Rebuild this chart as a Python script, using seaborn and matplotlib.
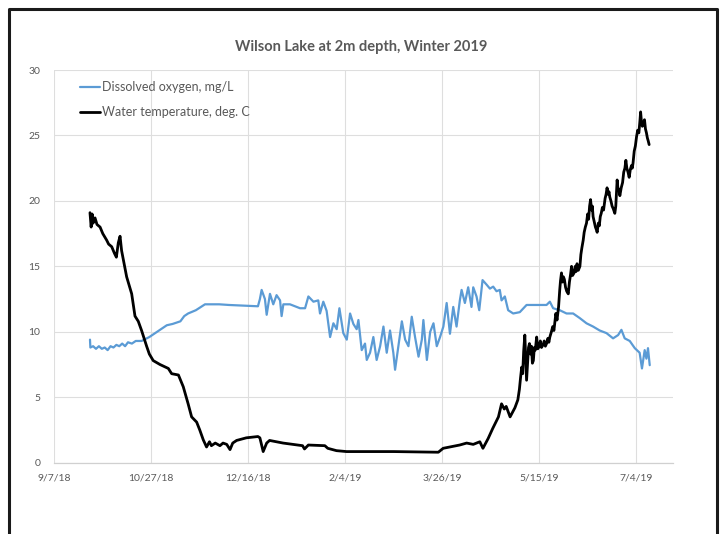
import matplotlib
matplotlib.use("Agg")
import matplotlib.pyplot as plt
from matplotlib.lines import Line2D
import seaborn as sns
import pandas as pd

# Wilson Lake logger record (days after 9/7/18)
START = pd.Timestamp("2018-09-07")

temp_day = [18.4, 19.0, 19.5, 20.0, 21.0, 22.0, 23.6, 25.0, 27.0, 28.0, 29.6, 31.0,
            32.0, 33.0, 33.9, 34.7, 36.0, 37.3, 39.9, 41.6, 43.3, 45.0, 47.6, 49.0,
            51.0, 54.5, 58.8, 60.5, 64.0, 66.5, 69.0, 70.8, 73.4, 75.0, 76.8, 78.5,
            80.0, 81.0, 83.0, 85.4, 87.0, 88.9, 90.6, 92.0, 94.0, 99.0, 105.0, 106.0,
            107.7, 109.5, 111.0, 114.6, 118.0, 123.0, 128.0, 129.0, 131.0, 139.5, 141.0,
            145.5, 150.7, 160.0, 175.0, 190.0, 198.0, 200.5, 204.0, 209.0, 212.6, 216.0,
            219.4, 221.0, 223.7, 226.0, 229.0, 230.6, 232.0, 233.0, 235.0, 237.5,
            239.0, 239.8, 240.4, 241.0, 241.5, 242.0, 242.6, 243.0, 243.5, 244.0, 244.5,
            245.0, 245.5, 246.0, 246.5, 247.0, 247.5, 248.0, 248.7, 249.3, 250.0, 250.6,
            251.2, 252.0, 252.6, 253.2, 253.8, 254.5, 255.0, 255.5, 256.3, 257.0, 257.6,
            258.0, 258.6, 259.2, 260.0, 260.6, 261.0, 261.5, 262.0, 262.5, 263.0, 263.6,
            264.2, 265.0, 265.6, 266.2, 266.7, 267.2, 268.0, 268.6, 269.0, 269.5, 270.2,
            271.0, 271.5, 272.0, 272.7, 273.2, 273.8, 274.4, 275.0, 275.5, 276.0, 276.5,
            277.0, 277.4, 277.8, 278.4, 279.0, 279.5, 279.9, 280.5, 281.0, 281.5, 282.0,
            282.6, 283.2, 284.0, 284.5, 285.0, 285.6, 286.0, 286.4, 287.0, 287.6, 288.2,
            289.0, 289.5, 290.2, 290.7, 291.1, 291.6, 292.3, 293.0, 293.6, 294.2, 294.7,
            295.2, 295.8, 296.4, 297.0, 297.6, 298.0, 298.4, 299.0, 299.6, 300.2, 300.8,
            301.4, 302.0, 302.3, 302.7, 303.2, 303.7, 304.3, 304.8, 305.3, 305.8, 306.2,
            306.7]
temp_val = [19.1, 18.0, 19.0, 18.3, 18.7, 18.2, 18.0, 17.5, 17.0, 16.7, 16.5, 16.0,
            15.7, 16.8, 17.3, 16.2, 15.2, 14.2, 12.9, 11.2, 10.8, 10.1, 8.9, 8.3,
            7.8, 7.5, 7.2, 6.8, 6.7, 5.8, 4.5, 3.5, 3.1, 2.5, 1.75, 1.2,
            1.6, 1.3, 1.5, 1.3, 1.5, 1.4, 1.0, 1.5, 1.7, 1.9, 2.0, 1.9,
            0.85, 1.5, 1.7, 1.6, 1.5, 1.4, 1.3, 1.05, 1.35, 1.3, 1.1,
            0.92, 0.85, 0.85, 0.85, 0.82, 0.8, 1.1, 1.2, 1.35, 1.5, 1.4,
            1.6, 1.1, 1.85, 2.6, 3.5, 4.5, 4.1, 4.3, 3.5, 4.2,
            4.8, 5.6, 6.5, 7.3, 6.8, 8.5, 9.75, 8.2, 6.3, 7.5, 8.8,
            9.1, 8.3, 8.9, 7.6, 7.8, 8.8, 8.6, 9.6, 8.7, 8.9, 9.3,
            8.8, 9.0, 9.3, 8.9, 9.1, 9.5, 9.2, 9.6, 10.0, 10.4, 10.1,
            10.65, 11.4, 10.9, 11.9, 13.2, 13.9, 14.5, 13.8, 14.2, 14.0, 13.4,
            13.1, 12.9, 13.8, 14.4, 15.0, 14.3, 14.5, 15.0, 14.6, 15.2, 14.7,
            15.0, 15.9, 16.4, 17.0, 17.6, 18.0, 18.3, 19.0, 18.6, 19.6, 20.1,
            19.3, 19.6, 18.8, 18.4, 18.0, 17.8, 17.6, 18.3, 18.1, 18.8, 19.05,
            19.5, 19.3, 20.2, 20.5, 21.0, 20.5, 20.7, 20.3, 20.0, 19.6, 19.4,
            19.05, 19.6, 21.6, 20.8, 20.9, 20.4, 21.0, 21.4, 22.2, 22.5, 23.1,
            22.5, 22.2, 21.8, 22.4, 22.7, 22.5, 22.9, 23.8, 24.2, 24.9, 25.4,
            25.2, 26.2, 26.8, 26.1, 25.7, 25.9, 26.2, 25.5, 25.2, 24.8, 24.6,
            24.3]

do_day = [18.4, 18.6, 20.0, 21.5, 23.0, 24.5, 26.0, 27.5, 29.0, 30.5, 32.0, 33.5,
          35.0, 36.5, 38.0, 40.0, 42.0, 45.0, 49.0, 52.0, 55.0, 58.0, 61.0, 65.0,
          67.0, 69.0, 73.0, 77.7, 85.0, 90.0, 98.0, 105.0, 106.0, 106.9, 108.6, 109.5,
          111.2, 112.9, 114.6, 116.4, 117.2, 118.1, 121.5, 124.1, 126.7, 129.3, 131.0,
          133.6, 136.1, 137.0, 138.7, 140.4, 142.2, 143.9, 145.6, 147.0, 149.0, 150.8,
          152.5, 154.2, 155.9, 156.8, 158.5, 160.2, 161.1, 162.8, 164.5, 166.2, 168.0,
          169.7, 171.4, 173.1, 174.8, 175.7, 177.4, 179.2, 180.9, 182.6, 184.3, 186.0,
          187.8, 189.5, 190.3, 192.1, 193.8, 195.5, 197.2, 198.9, 200.6, 202.3, 204.0,
          205.7, 207.4, 209.1, 210.0, 211.7, 213.4, 215.1, 216.0, 217.7, 219.1, 220.8,
          222.9, 224.6, 226.3, 228.0, 229.7, 230.6, 232.3, 234.0, 236.6, 240.0, 243.5,
          246.9, 250.3, 253.8, 255.5, 257.2, 260.6, 264.1, 267.5, 270.9, 274.4, 277.8,
          281.2, 284.7, 288.1, 290.7, 292.4, 294.1, 296.7, 299.3, 301.8, 303.0, 304.4,
          305.3, 306.1, 307.0]
do_val = [9.4, 8.8, 8.9, 8.7, 8.9, 8.7, 8.8, 8.6, 8.9, 8.8, 9.0, 8.9,
          9.1, 8.9, 9.2, 9.1, 9.3, 9.3, 9.6, 9.9, 10.2, 10.5, 10.6, 10.8,
          11.2, 11.4, 11.65, 12.1, 12.1, 12.05, 12.0, 11.95, 12.5, 13.2, 12.5, 11.3,
          12.9, 12.1, 12.8, 12.4, 11.2, 12.1, 12.1, 11.95, 11.8, 11.8, 12.7,
          12.3, 12.4, 11.4, 12.3, 11.6, 9.6, 10.65, 10.2, 11.8, 9.9, 9.4,
          11.4, 10.6, 10.2, 10.9, 8.6, 9.1, 7.85, 8.4, 9.6, 7.85, 8.9,
          10.4, 8.4, 10.1, 8.4, 7.1, 8.9, 10.8, 9.4, 8.9, 11.15, 9.6,
          8.1, 9.4, 10.9, 7.85, 10.0, 10.65, 8.9, 9.6, 10.4, 12.2, 9.85,
          11.9, 10.4, 12.4, 13.2, 12.2, 13.4, 11.9, 13.4, 12.7, 11.65, 13.95,
          13.6, 13.3, 13.45, 13.1, 13.2, 12.4, 12.7, 11.65, 11.4, 11.5, 12.05,
          12.05, 12.05, 12.05, 12.3, 11.8, 11.65, 11.4, 11.4, 11.05, 10.65, 10.4,
          10.1, 9.9, 9.5, 9.75, 10.15, 9.5, 9.3, 8.75, 8.4, 7.2, 8.6,
          7.95, 8.75, 7.45]

do_label = "Dissolved oxygen, mg/L"
temp_label = "Water temperature, deg. C"
tick_dates = ["2018-09-07", "2018-10-27", "2018-12-16", "2019-02-04",
              "2019-03-26", "2019-05-15", "2019-07-04"]
tick_text = ["9/7/18", "10/27/18", "12/16/18", "2/4/19", "3/26/19", "5/15/19", "7/4/19"]

df_do = pd.DataFrame({"date": START + pd.to_timedelta(do_day, unit="D"), "value": do_val})
df_t = pd.DataFrame({"date": START + pd.to_timedelta(temp_day, unit="D"), "value": temp_val})

sns.set_theme(style="whitegrid")
plt.rcParams["font.family"] = ["Lato", "DejaVu Sans"]
GRAY = "#595959"

fig = plt.figure(figsize=(7.23, 5.34), dpi=100)
ax = fig.add_axes([54.3 / 723, 1 - 462.7 / 534, (673 - 54.3) / 723, (462.7 - 70) / 534])

sns.lineplot(data=df_do, x="date", y="value", ax=ax, color="#5B9BD5", linewidth=1.6)
sns.lineplot(data=df_t, x="date", y="value", ax=ax, color="black", linewidth=2.0)

ax.set_ylim(0, 30)
ax.set_yticks(range(0, 31, 5))
ax.set_xlim(START, START + pd.Timedelta(days=319))
ax.set_xticks(pd.to_datetime(tick_dates))
ax.set_xticklabels(tick_text)
ax.set_xlabel("")
ax.set_ylabel("")
ax.tick_params(axis="both", length=0, labelsize=7.5, labelcolor=GRAY)
ax.tick_params(axis="x", pad=8)
ax.tick_params(axis="y", pad=10)
ax.grid(True, color="#DEDEDE", linewidth=0.8)
for side in ["left", "right", "top"]:
    ax.spines[side].set_visible(False)
ax.spines["bottom"].set_color("#D0D0D0")
ax.spines["bottom"].set_linewidth(0.9)

fig.text(0.5, 1 - 47 / 534, "Wilson Lake at 2m depth, Winter 2019", ha="center", va="center",
         fontsize=10.5, fontweight="bold", color=GRAY)

handles = [Line2D([], [], color="#5B9BD5", linewidth=1.6),
           Line2D([], [], color="black", linewidth=2.0)]
leg = ax.legend(handles, [do_label, temp_label], loc="upper left",
                bbox_to_anchor=(0.041, 0.972), frameon=False, fontsize=9,
                handlelength=1.6, handletextpad=0.15, labelspacing=1.05,
                borderpad=0, borderaxespad=0)
for t in leg.get_texts():
    t.set_color(GRAY)

# dark frame around the picture (bottom edge is cut off)
frame_x = [9 / 723, 9 / 723, 717 / 723, 717 / 723]
frame_y = [0, 1 - 9 / 534, 1 - 9 / 534, 0]
fig.add_artist(Line2D(frame_x, frame_y, color="#1a1a1a", linewidth=2.2,
                      transform=fig.transFigure))

plt.savefig("out.png", dpi=100)
plt.close()
